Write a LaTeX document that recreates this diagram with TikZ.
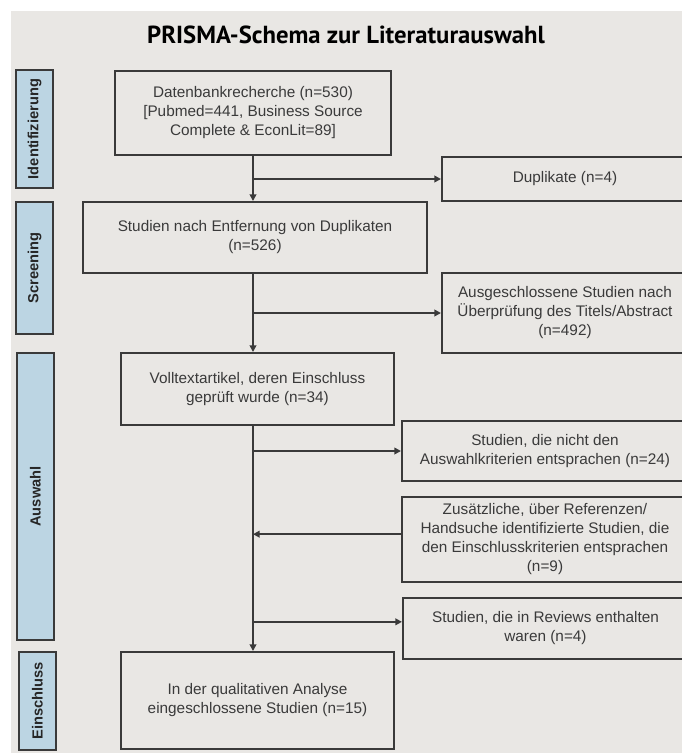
\documentclass[tikz,border=0pt]{standalone}
\usepackage{fontspec}
\setmainfont{Liberation Sans}
\newfontfamily\titlefont{PT Sans}
\usepackage{xcolor}
\usetikzlibrary{arrows.meta, positioning}
\definecolor{panelgray}{RGB}{233,231,228}
\definecolor{boxline}{RGB}{58,58,58}
\definecolor{boxtext}{RGB}{58,58,58}
\definecolor{tabblue}{RGB}{188,213,227}

\begin{document}
\begin{tikzpicture}[x=0.75pt, y=-0.75pt,
    flowbox/.style={rectangle, draw=boxline, line width=1.5pt, text=boxtext,
        align=center, font=\fontsize{11.5}{14.25}\selectfont, inner sep=2pt},
    phasetab/.style={rectangle, draw=boxline, line width=1.5pt, fill=tabblue,
        rotate=90, font=\fontsize{11}{13}\selectfont\bfseries, text=black!85,
        minimum height=27.75pt, inner sep=0pt},
    flowarrow/.style={draw=boxline, line width=1.5pt,
        -{Triangle[length=5pt, width=5pt]}}]

    % Page and grey panel
    \useasboundingbox (0,0) rectangle (682,754);
    \clip (0,0) rectangle (682,754);
    \fill[white] (0,0) rectangle (682,754);
    \fill[panelgray] (11,11) rectangle (682,753);

    % Title
    \node[font=\titlefont\bfseries\fontsize{18.5}{22}\selectfont, text=black] (title) at (346,35)
        {PRISMA-Schema zur Literaturauswahl};

    % Phase tabs
    \node[phasetab, minimum width=88.5pt] (tabident) at (34.5,129) {Identifizierung};
    \node[phasetab, minimum width=99pt] (tabscreen) at (34.5,268) {Screening};
    \node[phasetab, minimum width=215.25pt] (tabselect) at (35.5,496.5) {Auswahl};
    \node[phasetab, minimum width=73.5pt] (tabinclude) at (37.5,701) {Einschluss};

    % Main column
    \node[flowbox, minimum width=207pt, minimum height=63pt] (dbsearch) at (253,113)
        {Datenbankrecherche (n=530)\\{[}Pubmed=441, Business Source\\Complete \& EconLit=89]};
    \node[flowbox, minimum width=258pt, minimum height=53.25pt] (screened) at (255,237.5)
        {Studien nach Entfernung von Duplikaten\\(n=526)};
    \node[flowbox, minimum width=204.75pt, minimum height=54pt] (fulltext) at (257.5,389)
        {Volltextartikel, deren Einschluss\\geprüft wurde (n=34)};
    \node[flowbox, minimum width=204.75pt, minimum height=72.75pt] (included) at (257.5,700.5)
        {In der qualitativen Analyse\\eingeschlossene Studien (n=15)};

    % Side column
    \node[flowbox, minimum width=184.5pt, minimum height=33pt] (dupl) at (565,179)
        {Duplikate (n=4)};
    \node[flowbox, minimum width=184.5pt, minimum height=60pt] (exclscreen) at (565,313)
        {Ausgeschlossene Studien nach\\Überprüfung des Titels/Abstract\\(n=492)};
    \node[flowbox, minimum width=214.5pt, minimum height=45pt] (exclcrit) at (545,451)
        {Studien, die nicht den\\Auswahlkriterien entsprachen (n=24)};
    \node[flowbox, minimum width=214.5pt, minimum height=63.75pt] (handsearch) at (545,539.5)
        {Zusätzliche, über Referenzen/\\Handsuche identifizierte Studien, die\\den Einschlusskriterien entsprachen\\(n=9)};
    \node[flowbox, minimum width=213.75pt, minimum height=45.75pt] (inreviews) at (545.5,628.5)
        {Studien, die in Reviews enthalten\\waren (n=4)};

    % Arrows
    \coordinate (handout) at ([yshift=4pt]handsearch.west);
    \coordinate (reviewin) at ([yshift=5pt]inreviews.west);
    \draw[flowarrow] (dbsearch.south) -- (dbsearch.south |- screened.north);
    \draw[flowarrow] (dbsearch.south |- dupl.west) -- (dupl.west);
    \draw[flowarrow] (dbsearch.south |- screened.south) -- (dbsearch.south |- fulltext.north);
    \draw[flowarrow] (dbsearch.south |- exclscreen.west) -- (exclscreen.west);
    \draw[flowarrow] (dbsearch.south |- fulltext.south) -- (dbsearch.south |- included.north);
    \draw[flowarrow] (dbsearch.south |- exclcrit.west) -- (exclcrit.west);
    \draw[flowarrow] (handout) -- (dbsearch.south |- handout);
    \draw[flowarrow] (dbsearch.south |- reviewin) -- (reviewin);
\end{tikzpicture}
\end{document}
